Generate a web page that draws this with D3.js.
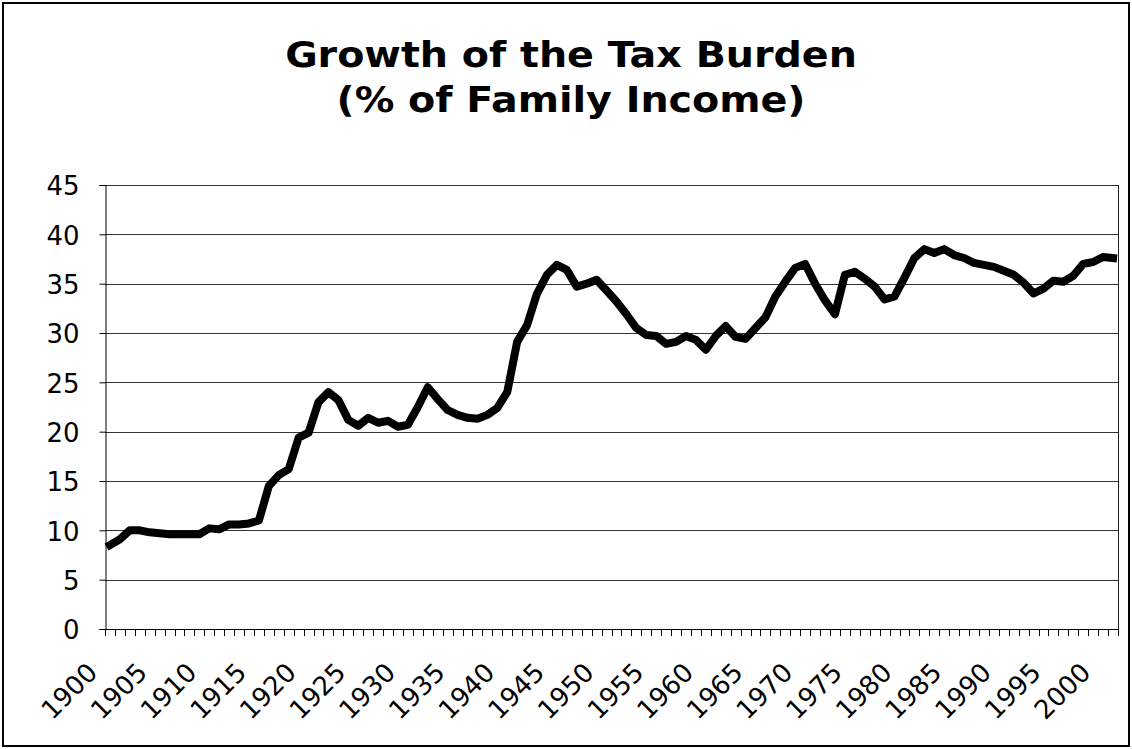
<!DOCTYPE html>
<html>
<head>
<meta charset="utf-8">
<script src="https://cdnjs.cloudflare.com/ajax/libs/d3/7.8.5/d3.min.js"></script>
<style>
  html, body { margin: 0; padding: 0; background: #fff; }
  svg { display: block; }
  text { font-family: "DejaVu Sans", Verdana, sans-serif; fill: #000; }
</style>
</head>
<body>
<svg id="chart" width="1132" height="749"></svg>
<script>
// ---- Data ----
const titleLines = ["Growth of the Tax Burden", "(% of Family Income)"];
const years = d3.range(1900, 2002);
const taxBurden = [
  8.5, 9.1, 10.0, 10.0, 9.8, 9.7, 9.6, 9.6, 9.6, 9.6,
  10.2, 10.1, 10.6, 10.6, 10.7, 11.0, 14.5, 15.6, 16.2, 19.4,
  19.9, 23.0, 24.0, 23.2, 21.2, 20.6, 21.4, 20.9, 21.1, 20.5,
  20.7, 22.5, 24.5, 23.3, 22.2, 21.7, 21.4, 21.3, 21.7, 22.4,
  24.0, 29.1, 30.8, 34.0, 35.9, 36.9, 36.4, 34.7, 35.0, 35.4,
  34.3, 33.2, 31.9, 30.5, 29.8, 29.7, 28.9, 29.1, 29.7, 29.3,
  28.3, 29.7, 30.7, 29.6, 29.4, 30.5, 31.6, 33.7, 35.2, 36.6,
  37.0, 35.0, 33.3, 31.9, 35.9, 36.2, 35.5, 34.7, 33.4, 33.7,
  35.6, 37.6, 38.5, 38.1, 38.5, 37.9, 37.6, 37.1, 36.9, 36.7,
  36.3, 35.9, 35.1, 34.0, 34.5, 35.3, 35.2, 35.8, 37.0, 37.2,
  37.7, 37.6
];
const yTicks = [0, 5, 10, 15, 20, 25, 30, 35, 40, 45];
const xLabelYears = years.filter(y => y % 5 === 0);

// ---- Layout ----
const svg = d3.select("#chart");
const plot = { left: 105, right: 1118, top: 185, bottom: 629 };

// Outer border
svg.append("rect")
  .attr("x", 3).attr("y", 3).attr("width", 1126).attr("height", 743)
  .attr("fill", "none").attr("stroke", "#000").attr("stroke-width", 2);

// Title (horizontally widened to mimic Verdana Bold)
svg.append("g").attr("transform", "translate(571,0) scale(1.1,1)")
  .append("text")
  .attr("text-anchor", "middle")
  .attr("font-size", 36).attr("font-weight", "bold")
  .selectAll("tspan").data(titleLines).join("tspan")
  .attr("x", 0).attr("y", (d, i) => 67 + i * 45).text(d => d);

// Scales
const x = d3.scaleBand().domain(years).range([plot.left, plot.right]).paddingInner(0).paddingOuter(0);
const y = d3.scaleLinear().domain([0, 45]).range([plot.bottom, plot.top]);
const bw = x.bandwidth();

// Gridlines
svg.append("g").selectAll("line").data(yTicks.filter(t => t > 0)).join("line")
  .attr("x1", plot.left).attr("x2", plot.right)
  .attr("y1", d => Math.round(y(d)) + 0.5).attr("y2", d => Math.round(y(d)) + 0.5)
  .attr("stroke", "#333").attr("stroke-width", 1);

// Right border of plot area
svg.append("line")
  .attr("x1", plot.right + 0.5).attr("x2", plot.right + 0.5)
  .attr("y1", plot.top).attr("y2", plot.bottom)
  .attr("stroke", "#222").attr("stroke-width", 1);

// Y axis
const yAxis = d3.axisLeft(y).tickValues(yTicks).tickSize(6).tickPadding(20).tickFormat(d3.format("d"));
const gy = svg.append("g").attr("transform", `translate(${plot.left + 0.5},0)`).call(yAxis);
gy.select(".domain").attr("stroke", "#000");
gy.selectAll(".tick line").attr("stroke", "#000");
gy.selectAll(".tick text").attr("font-size", 26).attr("font-family", "DejaVu Sans, Verdana, sans-serif")
  .attr("fill", "#000").attr("dy", "0.38em");

// X axis: tick marks at category boundaries
const boundaries = years.map(yr => x(yr)).concat([x(years[years.length - 1]) + bw]);
const gx = svg.append("g");
gx.append("line")
  .attr("x1", plot.left).attr("x2", plot.right)
  .attr("y1", plot.bottom + 0.5).attr("y2", plot.bottom + 0.5)
  .attr("stroke", "#000");
gx.selectAll("line.tk").data(boundaries).join("line").attr("class", "tk")
  .attr("x1", d => Math.round(d) + 0.5).attr("x2", d => Math.round(d) + 0.5)
  .attr("y1", plot.bottom).attr("y2", plot.bottom + 7)
  .attr("stroke", "#000");
gx.selectAll("text").data(xLabelYears).join("text")
  .attr("transform", d => `translate(${x(d) + bw / 2 - 11},674) rotate(-45)`)
  .attr("text-anchor", "end").attr("font-size", 26)
  .text(d => d);

// Line
const line = d3.line()
  .x((d, i) => x(years[i]) + bw / 2)
  .y(d => y(d));
svg.append("path").datum(taxBurden)
  .attr("d", line)
  .attr("fill", "none").attr("stroke", "#000")
  .attr("stroke-width", 8)
  .attr("stroke-linejoin", "round").attr("stroke-linecap", "square");
</script>
</body>
</html>
